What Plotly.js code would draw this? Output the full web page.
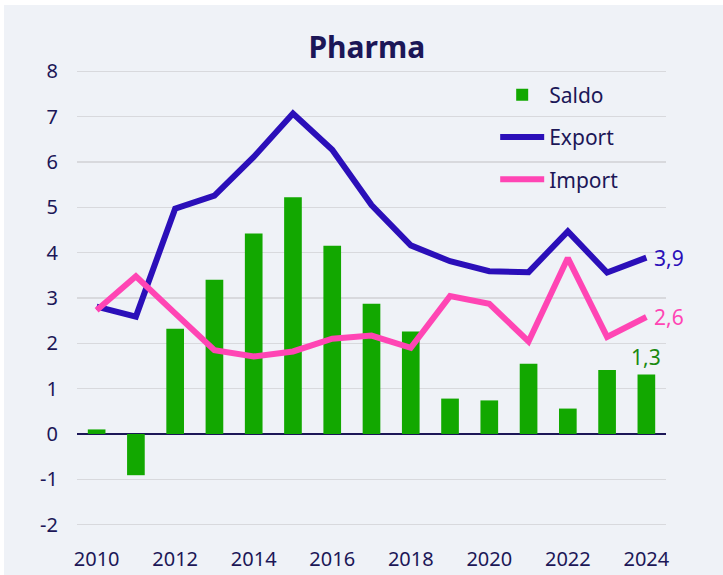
<!DOCTYPE html>
<html>
<head>
<meta charset="utf-8">
<script src="https://cdn.plot.ly/plotly-3.0.1.min.js"></script>
<style>
html,body{margin:0;padding:0;background:#ffffff;}
#chart{position:absolute;left:4px;top:5px;width:719px;height:570px;}
</style>
</head>
<body>
<div id="chart"></div>
<script>
const years = [2010,2011,2012,2013,2014,2015,2016,2017,2018,2019,2020,2021,2022,2023,2024];
const saldo = [0.10,-0.91,2.32,3.40,4.42,5.22,4.15,2.87,2.26,0.78,0.74,1.55,0.56,1.41,1.31];
const exportVals = [2.81,2.59,4.97,5.26,6.11,7.07,6.27,5.05,4.16,3.81,3.59,3.57,4.47,3.56,3.89];
const importVals = [2.73,3.48,2.66,1.85,1.71,1.82,2.10,2.17,1.90,3.04,2.87,2.04,3.88,2.14,2.58];
const yTicks = [-2,-1,0,1,2,3,4,5,6,7,8];
const xTicks = [2010,2012,2014,2016,2018,2020,2022,2024];

const navy = '#1c1757';
const cGreen = '#12a800';
const cBlue = '#2b0fb9';
const cPink = '#ff45b4';
const FONT = 'Noto Sans, sans-serif';

const fmt = v => v.toFixed(1).replace('.', ',');
const last = a => a[a.length - 1];
const lastYear = last(years);

const traces = [
  {type:'bar', name:'Saldo', x:years, y:saldo, width:0.45,
   marker:{color:cGreen, line:{width:0}}, legendgroup:'a'},
  {type:'scatter', mode:'lines', name:'Export', x:years, y:exportVals,
   line:{color:cBlue, width:6}, legendgroup:'b'},
  {type:'scatter', mode:'lines', name:'Import', x:years, y:importVals,
   line:{color:cPink, width:6}, legendgroup:'c'}
];

const layout = {
  width:719, height:570,
  paper_bgcolor:'#eff2f7', plot_bgcolor:'#eff2f7',
  font:{family:FONT, color:navy, size:20},
  margin:{l:73, r:57, t:55, b:30, pad:0},
  title:{text:'<b>Pharma</b>', font:{family:FONT, size:30, color:navy},
         x:0.492, xref:'paper', xanchor:'center', y:0.925, yref:'container', yanchor:'middle'},
  showlegend:true,
  legend:{x:0.71, xanchor:'left', y:0.97, yanchor:'top', bgcolor:'rgba(0,0,0,0)',
          font:{family:FONT, size:21, color:navy}, traceorder:'grouped', tracegroupgap:12,
          itemwidth:44},
  bargap:0.55,
  xaxis:{range:[2009.5,2024.5], tickvals:xTicks, ticktext:xTicks.map(String),
         showgrid:false, zeroline:false, showline:false, ticks:'',
         tickfont:{family:FONT, size:20, color:navy}, fixedrange:true},
  yaxis:{range:[-2.45,8.25], tickvals:yTicks, ticktext:yTicks.map(String),
         showgrid:true, gridcolor:'#d8d9dd', gridwidth:1.5,
         zeroline:true, zerolinecolor:navy, zerolinewidth:1.5,
         showline:false, ticks:'', ticklabelstandoff:18,
         tickfont:{family:FONT, size:20, color:navy}, fixedrange:true},
  annotations:[
    {x:lastYear, y:last(exportVals), xref:'x', yref:'y', text:fmt(last(exportVals)),
     showarrow:false, xanchor:'left', yanchor:'middle', xshift:6,
     font:{family:FONT, size:21, color:cBlue}},
    {x:lastYear, y:last(importVals), xref:'x', yref:'y', text:fmt(last(importVals)),
     showarrow:false, xanchor:'left', yanchor:'middle', xshift:6,
     font:{family:FONT, size:21, color:cPink}},
    {x:lastYear, y:last(saldo), xref:'x', yref:'y', text:fmt(last(saldo)),
     showarrow:false, xanchor:'center', yanchor:'bottom', yshift:2,
     font:{family:FONT, size:21, color:'#1a8a10'}}
  ]
};

Plotly.newPlot('chart', traces, layout, {displayModeBar:false, staticPlot:true});
</script>
</body>
</html>
